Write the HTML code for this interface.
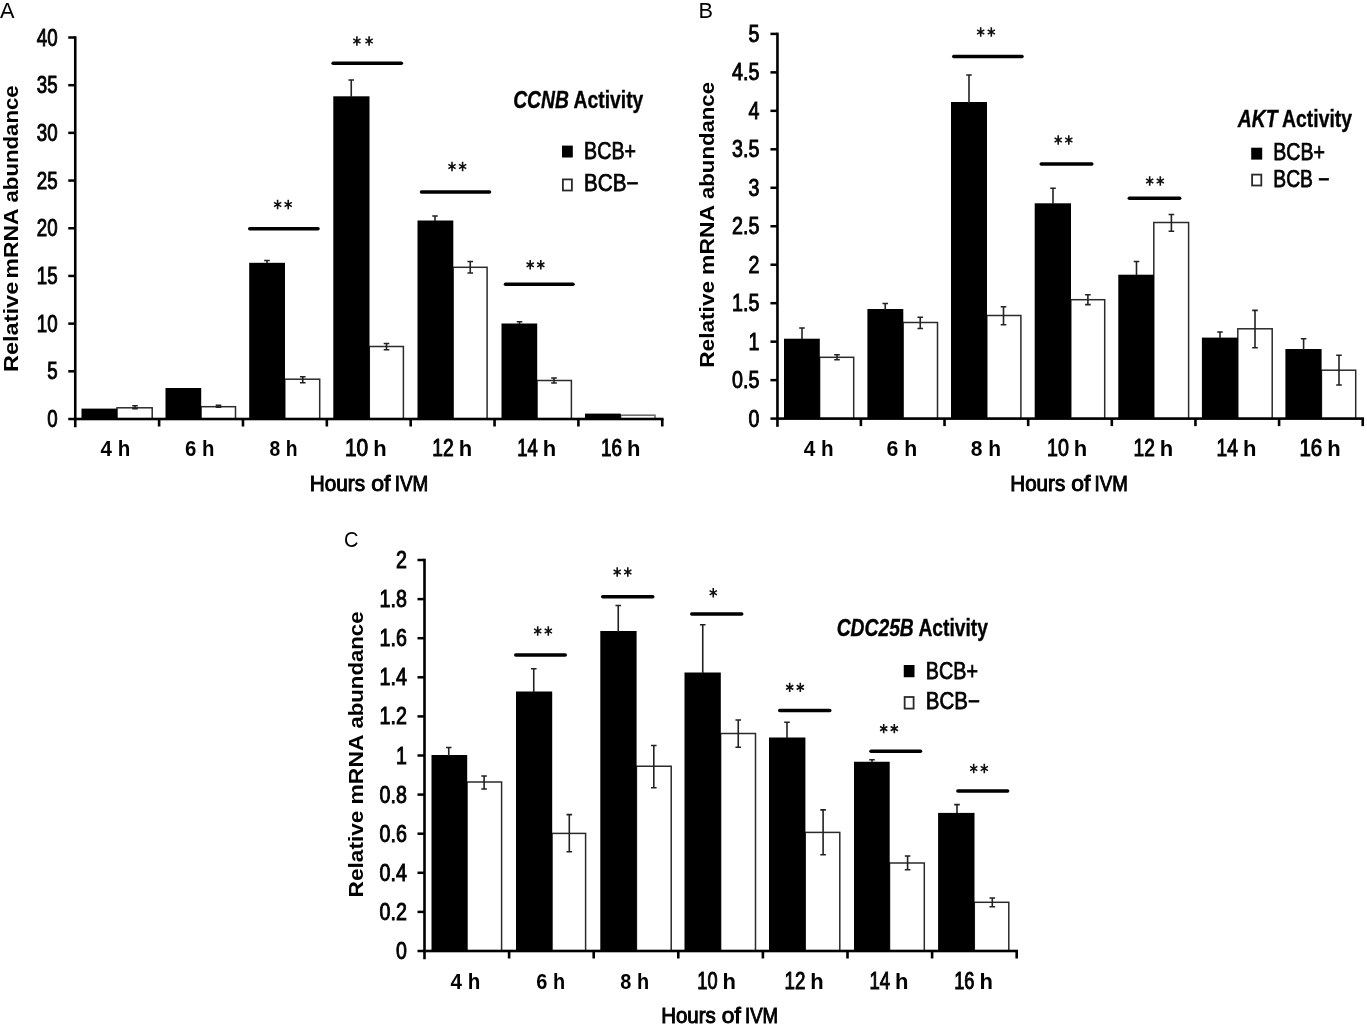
<!DOCTYPE html>
<html><head><meta charset="utf-8"><title>Relative mRNA abundance</title>
<style>
html,body{margin:0;padding:0;background:#fff;}
body{width:1367px;height:1026px;overflow:hidden;font-family:"Liberation Sans",sans-serif;}
svg text{font-family:"Liberation Sans",sans-serif;}
</style></head><body>
<svg width="1367" height="1026" viewBox="0 0 1367 1026" font-family="Liberation Sans, sans-serif" fill="#000" style="display:block;filter:blur(0.45px)">
<rect width="1367" height="1026" fill="#fff"/>
<rect x="117.00" y="407.80" width="35.20" height="11.20" fill="#fff" stroke="#2b2b2b" stroke-width="1.5"/>
<rect x="81.50" y="408.60" width="35.70" height="10.40" fill="#000"/>
<rect x="201.00" y="406.70" width="34.50" height="12.30" fill="#fff" stroke="#2b2b2b" stroke-width="1.5"/>
<rect x="165.50" y="388.00" width="35.70" height="31.00" fill="#000"/>
<rect x="284.80" y="379.20" width="34.90" height="39.80" fill="#fff" stroke="#2b2b2b" stroke-width="1.5"/>
<rect x="249.20" y="262.80" width="35.80" height="156.20" fill="#000"/>
<rect x="369.30" y="346.50" width="34.10" height="72.50" fill="#fff" stroke="#2b2b2b" stroke-width="1.5"/>
<rect x="333.30" y="96.30" width="36.20" height="322.70" fill="#000"/>
<rect x="453.10" y="267.30" width="34.00" height="151.70" fill="#fff" stroke="#2b2b2b" stroke-width="1.5"/>
<rect x="417.50" y="220.50" width="35.80" height="198.50" fill="#000"/>
<rect x="537.00" y="380.50" width="34.40" height="38.50" fill="#fff" stroke="#2b2b2b" stroke-width="1.5"/>
<rect x="501.50" y="323.50" width="35.70" height="95.50" fill="#000"/>
<rect x="620.60" y="415.20" width="34.40" height="3.80" fill="#fff" stroke="#666" stroke-width="1.5"/>
<rect x="585.00" y="413.60" width="35.80" height="5.40" fill="#000"/>
<path d="M135.00 405.80V408.80M132.20 405.80H137.80M132.20 408.80H137.80" stroke="#222" stroke-width="1.6" fill="none"/>
<path d="M267.00 260.50V263.00M264.20 260.50H269.80" stroke="#222" stroke-width="1.6" fill="none"/>
<path d="M302.75 376.75V382.75M299.95 376.75H305.55M299.95 382.75H305.55" stroke="#222" stroke-width="1.6" fill="none"/>
<path d="M351.25 80.00V97.00M348.45 80.00H354.05" stroke="#222" stroke-width="1.6" fill="none"/>
<path d="M386.50 343.50V349.75M383.70 343.50H389.30M383.70 349.75H389.30" stroke="#222" stroke-width="1.6" fill="none"/>
<path d="M435.00 216.00V221.00M432.20 216.00H437.80" stroke="#222" stroke-width="1.6" fill="none"/>
<path d="M470.25 261.50V273.00M467.45 261.50H473.05M467.45 273.00H473.05" stroke="#222" stroke-width="1.6" fill="none"/>
<path d="M519.50 321.80V324.00M516.70 321.80H522.30" stroke="#222" stroke-width="1.6" fill="none"/>
<path d="M554.00 378.00V383.00M551.20 378.00H556.80M551.20 383.00H556.80" stroke="#222" stroke-width="1.6" fill="none"/>
<path d="M218.50 405.20V407.20M215.70 405.20H221.30M215.70 407.20H221.30" stroke="#222" stroke-width="1.6" fill="none"/>
<rect x="73.95" y="36.25" width="2.6" height="391.00" fill="#000"/>
<rect x="73.95" y="417.70" width="589.62" height="2.6" fill="#000"/>
<rect x="157.81" y="419.00" width="2.6" height="7.5" fill="#000"/>
<rect x="241.67" y="419.00" width="2.6" height="7.5" fill="#000"/>
<rect x="325.53" y="419.00" width="2.6" height="7.5" fill="#000"/>
<rect x="409.39" y="419.00" width="2.6" height="7.5" fill="#000"/>
<rect x="493.25" y="419.00" width="2.6" height="7.5" fill="#000"/>
<rect x="577.11" y="419.00" width="2.6" height="7.5" fill="#000"/>
<rect x="660.97" y="419.00" width="2.6" height="7.5" fill="#000"/>
<rect x="68.25" y="417.75" width="7" height="2.5" fill="#000"/>
<text x="57.6" y="427.00" font-size="23.5" font-weight="normal" font-style="normal" text-anchor="end" textLength="10.4" lengthAdjust="spacingAndGlyphs" stroke="#000" stroke-width="0.95">0</text>
<rect x="68.25" y="370.06" width="7" height="2.5" fill="#000"/>
<text x="57.6" y="379.31" font-size="23.5" font-weight="normal" font-style="normal" text-anchor="end" textLength="10.4" lengthAdjust="spacingAndGlyphs" stroke="#000" stroke-width="0.95">5</text>
<rect x="68.25" y="322.38" width="7" height="2.5" fill="#000"/>
<text x="57.6" y="331.62" font-size="23.5" font-weight="normal" font-style="normal" text-anchor="end" textLength="20.8" lengthAdjust="spacingAndGlyphs" stroke="#000" stroke-width="0.95">10</text>
<rect x="68.25" y="274.69" width="7" height="2.5" fill="#000"/>
<text x="57.6" y="283.94" font-size="23.5" font-weight="normal" font-style="normal" text-anchor="end" textLength="20.8" lengthAdjust="spacingAndGlyphs" stroke="#000" stroke-width="0.95">15</text>
<rect x="68.25" y="227.00" width="7" height="2.5" fill="#000"/>
<text x="57.6" y="236.25" font-size="23.5" font-weight="normal" font-style="normal" text-anchor="end" textLength="20.8" lengthAdjust="spacingAndGlyphs" stroke="#000" stroke-width="0.95">20</text>
<rect x="68.25" y="179.31" width="7" height="2.5" fill="#000"/>
<text x="57.6" y="188.56" font-size="23.5" font-weight="normal" font-style="normal" text-anchor="end" textLength="20.8" lengthAdjust="spacingAndGlyphs" stroke="#000" stroke-width="0.95">25</text>
<rect x="68.25" y="131.62" width="7" height="2.5" fill="#000"/>
<text x="57.6" y="140.88" font-size="23.5" font-weight="normal" font-style="normal" text-anchor="end" textLength="20.8" lengthAdjust="spacingAndGlyphs" stroke="#000" stroke-width="0.95">30</text>
<rect x="68.25" y="83.94" width="7" height="2.5" fill="#000"/>
<text x="57.6" y="93.19" font-size="23.5" font-weight="normal" font-style="normal" text-anchor="end" textLength="20.8" lengthAdjust="spacingAndGlyphs" stroke="#000" stroke-width="0.95">35</text>
<rect x="68.25" y="36.25" width="7" height="2.5" fill="#000"/>
<text x="57.6" y="45.50" font-size="23.5" font-weight="normal" font-style="normal" text-anchor="end" textLength="20.8" lengthAdjust="spacingAndGlyphs" stroke="#000" stroke-width="0.95">40</text>
<path d="M249.75 228.75H318.00" stroke="#000" stroke-width="3.5" stroke-linecap="round"/>
<path d="M333.10 63.20H401.40" stroke="#000" stroke-width="3.5" stroke-linecap="round"/>
<path d="M421.50 192.00H489.50" stroke="#000" stroke-width="3.5" stroke-linecap="round"/>
<path d="M505.50 284.25H573.00" stroke="#000" stroke-width="3.5" stroke-linecap="round"/>
<path d="M277.60 199.80L277.60 209.20M273.96 202.40L281.24 206.60M281.24 202.40L273.96 206.60" stroke="#111" stroke-width="1.6" fill="none" stroke-linecap="butt"/>
<circle cx="277.60" cy="204.50" r="1.5" fill="#111"/>
<path d="M288.20 199.80L288.20 209.20M284.56 202.40L291.84 206.60M291.84 202.40L284.56 206.60" stroke="#111" stroke-width="1.6" fill="none" stroke-linecap="butt"/>
<circle cx="288.20" cy="204.50" r="1.5" fill="#111"/>
<path d="M356.90 36.30L356.90 45.70M353.26 38.90L360.54 43.10M360.54 38.90L353.26 43.10" stroke="#111" stroke-width="1.6" fill="none" stroke-linecap="butt"/>
<circle cx="356.90" cy="41.00" r="1.5" fill="#111"/>
<path d="M369.10 36.30L369.10 45.70M365.46 38.90L372.74 43.10M372.74 38.90L365.46 43.10" stroke="#111" stroke-width="1.6" fill="none" stroke-linecap="butt"/>
<circle cx="369.10" cy="41.00" r="1.5" fill="#111"/>
<path d="M452.00 161.80L452.00 171.20M448.36 164.40L455.64 168.60M455.64 164.40L448.36 168.60" stroke="#111" stroke-width="1.6" fill="none" stroke-linecap="butt"/>
<circle cx="452.00" cy="166.50" r="1.5" fill="#111"/>
<path d="M462.60 161.80L462.60 171.20M458.96 164.40L466.24 168.60M466.24 164.40L458.96 168.60" stroke="#111" stroke-width="1.6" fill="none" stroke-linecap="butt"/>
<circle cx="462.60" cy="166.50" r="1.5" fill="#111"/>
<path d="M530.20 260.10L530.20 269.50M526.56 262.70L533.84 266.90M533.84 262.70L526.56 266.90" stroke="#111" stroke-width="1.6" fill="none" stroke-linecap="butt"/>
<circle cx="530.20" cy="264.80" r="1.5" fill="#111"/>
<path d="M540.80 260.10L540.80 269.50M537.16 262.70L544.44 266.90M544.44 262.70L537.16 266.90" stroke="#111" stroke-width="1.6" fill="none" stroke-linecap="butt"/>
<circle cx="540.80" cy="264.80" r="1.5" fill="#111"/>
<text x="115.45" y="455.5" font-size="21.5" font-weight="bold" font-style="normal" text-anchor="middle" textLength="29.7" lengthAdjust="spacingAndGlyphs" >4 h</text>
<text x="199.82" y="455.5" font-size="21.5" font-weight="bold" font-style="normal" text-anchor="middle" textLength="29.4" lengthAdjust="spacingAndGlyphs" >6 h</text>
<text x="283.57" y="455.5" font-size="21.5" font-weight="bold" font-style="normal" text-anchor="middle" textLength="27.9" lengthAdjust="spacingAndGlyphs" >8 h</text>
<text x="368.15" y="455.6" font-size="23.5" font-weight="normal" font-style="normal" text-anchor="end" textLength="23.2" lengthAdjust="spacingAndGlyphs" stroke="#000" stroke-width="1.0">10</text>
<text x="386.65" y="455.5" font-size="22" font-weight="bold" font-style="normal" text-anchor="end" >h</text>
<text x="453.65" y="455.6" font-size="23.5" font-weight="normal" font-style="normal" text-anchor="end" textLength="21.4" lengthAdjust="spacingAndGlyphs" stroke="#000" stroke-width="1.0">12</text>
<text x="472.15" y="455.5" font-size="22" font-weight="bold" font-style="normal" text-anchor="end" >h</text>
<text x="537.65" y="455.6" font-size="23.5" font-weight="normal" font-style="normal" text-anchor="end" textLength="20.4" lengthAdjust="spacingAndGlyphs" stroke="#000" stroke-width="1.0">14</text>
<text x="556.15" y="455.5" font-size="22" font-weight="bold" font-style="normal" text-anchor="end" >h</text>
<text x="621.90" y="455.6" font-size="23.5" font-weight="normal" font-style="normal" text-anchor="end" textLength="20.9" lengthAdjust="spacingAndGlyphs" stroke="#000" stroke-width="1.0">16</text>
<text x="640.40" y="455.5" font-size="22" font-weight="bold" font-style="normal" text-anchor="end" >h</text>
<text x="337.48" y="491.2" font-size="22" font-weight="normal" font-style="normal" text-anchor="middle" textLength="55.4" lengthAdjust="spacingAndGlyphs" stroke="#000" stroke-width="1.0">Hours</text>
<text x="380.85" y="491.2" font-size="22" font-weight="normal" font-style="normal" text-anchor="middle" textLength="19.3" lengthAdjust="spacingAndGlyphs" stroke="#000" stroke-width="1.0">of</text>
<text x="411.56" y="491.2" font-size="22" font-weight="normal" font-style="normal" text-anchor="middle" textLength="33.5" lengthAdjust="spacingAndGlyphs" stroke="#000" stroke-width="1.0">IVM</text>
<text transform="translate(17.7,326.90) rotate(-90)" font-size="20.5" font-weight="bold" text-anchor="middle" textLength="90.4" lengthAdjust="spacingAndGlyphs">Relative</text>
<text transform="translate(17.7,243.40) rotate(-90)" font-size="20.5" font-weight="bold" text-anchor="middle" textLength="70.2" lengthAdjust="spacingAndGlyphs">mRNA</text>
<text transform="translate(17.7,143.90) rotate(-90)" font-size="20.5" font-weight="bold" text-anchor="middle" textLength="117.2" lengthAdjust="spacingAndGlyphs">abundance</text>
<text x="0" y="17.5" font-size="22" font-weight="normal" font-style="normal" text-anchor="start" textLength="14.5" lengthAdjust="spacingAndGlyphs" >A</text>
<text x="513.20" y="107.6" font-size="23" font-weight="bold" stroke="#000" stroke-width="0.35" textLength="130.1" lengthAdjust="spacingAndGlyphs"><tspan font-style="italic">CCNB</tspan> Activity</text>
<rect x="562.00" y="145.60" width="10.80" height="11.90" fill="#000"/>
<text x="584.10" y="159.2" font-size="23" font-weight="normal" font-style="normal" text-anchor="start" textLength="51.9" lengthAdjust="spacingAndGlyphs" stroke="#000" stroke-width="0.75">BCB+</text>
<rect x="562.90" y="179.40" width="9.00" height="11.10" fill="#fff" stroke="#2a2a2a" stroke-width="1.8"/>
<text x="584.10" y="191.15" font-size="23" font-weight="normal" font-style="normal" text-anchor="start" textLength="54.4" lengthAdjust="spacingAndGlyphs" stroke="#000" stroke-width="0.75">BCB−</text>
<rect x="819.60" y="357.30" width="34.10" height="61.30" fill="#fff" stroke="#2b2b2b" stroke-width="1.5"/>
<rect x="784.00" y="338.70" width="35.80" height="79.90" fill="#000"/>
<rect x="903.10" y="322.50" width="34.40" height="96.10" fill="#fff" stroke="#2b2b2b" stroke-width="1.5"/>
<rect x="867.40" y="309.00" width="35.90" height="109.60" fill="#000"/>
<rect x="986.80" y="315.50" width="34.10" height="103.10" fill="#fff" stroke="#2b2b2b" stroke-width="1.5"/>
<rect x="951.00" y="102.00" width="36.00" height="316.60" fill="#000"/>
<rect x="1070.80" y="299.70" width="33.90" height="118.90" fill="#fff" stroke="#2b2b2b" stroke-width="1.5"/>
<rect x="1034.70" y="203.30" width="36.30" height="215.30" fill="#000"/>
<rect x="1153.80" y="222.50" width="34.80" height="196.10" fill="#fff" stroke="#2b2b2b" stroke-width="1.5"/>
<rect x="1118.30" y="274.70" width="35.70" height="143.90" fill="#000"/>
<rect x="1237.80" y="328.80" width="34.40" height="89.80" fill="#fff" stroke="#2b2b2b" stroke-width="1.5"/>
<rect x="1201.90" y="337.60" width="36.10" height="81.00" fill="#000"/>
<rect x="1321.40" y="370.20" width="34.30" height="48.40" fill="#fff" stroke="#2b2b2b" stroke-width="1.5"/>
<rect x="1285.40" y="349.00" width="36.20" height="69.60" fill="#000"/>
<path d="M802.00 328.00V339.00M799.20 328.00H804.80" stroke="#222" stroke-width="1.6" fill="none"/>
<path d="M837.00 354.75V359.75M834.20 354.75H839.80M834.20 359.75H839.80" stroke="#222" stroke-width="1.6" fill="none"/>
<path d="M885.25 303.50V310.00M882.45 303.50H888.05" stroke="#222" stroke-width="1.6" fill="none"/>
<path d="M920.25 317.25V328.50M917.45 317.25H923.05M917.45 328.50H923.05" stroke="#222" stroke-width="1.6" fill="none"/>
<path d="M969.00 75.00V103.00M966.20 75.00H971.80" stroke="#222" stroke-width="1.6" fill="none"/>
<path d="M1003.50 306.75V324.75M1000.70 306.75H1006.30M1000.70 324.75H1006.30" stroke="#222" stroke-width="1.6" fill="none"/>
<path d="M1053.00 188.30V204.00M1050.20 188.30H1055.80" stroke="#222" stroke-width="1.6" fill="none"/>
<path d="M1087.90 294.70V304.60M1085.10 294.70H1090.70M1085.10 304.60H1090.70" stroke="#222" stroke-width="1.6" fill="none"/>
<path d="M1136.50 261.50V275.00M1133.70 261.50H1139.30" stroke="#222" stroke-width="1.6" fill="none"/>
<path d="M1171.40 214.50V231.20M1168.60 214.50H1174.20M1168.60 231.20H1174.20" stroke="#222" stroke-width="1.6" fill="none"/>
<path d="M1220.00 332.00V338.00M1217.20 332.00H1222.80" stroke="#222" stroke-width="1.6" fill="none"/>
<path d="M1255.00 310.40V347.80M1252.20 310.40H1257.80M1252.20 347.80H1257.80" stroke="#222" stroke-width="1.6" fill="none"/>
<path d="M1303.60 338.80V350.00M1300.80 338.80H1306.40" stroke="#222" stroke-width="1.6" fill="none"/>
<path d="M1339.00 355.30V385.00M1336.20 355.30H1341.80M1336.20 385.00H1341.80" stroke="#222" stroke-width="1.6" fill="none"/>
<rect x="776.15" y="32.65" width="2.6" height="394.20" fill="#000"/>
<rect x="776.15" y="417.30" width="587.88" height="2.6" fill="#000"/>
<rect x="859.59" y="418.60" width="2.6" height="7.5" fill="#000"/>
<rect x="943.23" y="418.60" width="2.6" height="7.5" fill="#000"/>
<rect x="1026.87" y="418.60" width="2.6" height="7.5" fill="#000"/>
<rect x="1110.51" y="418.60" width="2.6" height="7.5" fill="#000"/>
<rect x="1194.15" y="418.60" width="2.6" height="7.5" fill="#000"/>
<rect x="1277.79" y="418.60" width="2.6" height="7.5" fill="#000"/>
<rect x="1361.43" y="418.60" width="2.6" height="7.5" fill="#000"/>
<rect x="770.45" y="417.35" width="7" height="2.5" fill="#000"/>
<text x="759.3000000000001" y="426.60" font-size="23.5" font-weight="normal" font-style="normal" text-anchor="end" textLength="10.9" lengthAdjust="spacingAndGlyphs" stroke="#000" stroke-width="0.95">0</text>
<rect x="770.45" y="378.88" width="7" height="2.5" fill="#000"/>
<text x="759.3000000000001" y="388.13" font-size="23.5" font-weight="normal" font-style="normal" text-anchor="end" textLength="27.3" lengthAdjust="spacingAndGlyphs" stroke="#000" stroke-width="0.95">0.5</text>
<rect x="770.45" y="340.41" width="7" height="2.5" fill="#000"/>
<text x="759.3000000000001" y="349.66" font-size="23.5" font-weight="normal" font-style="normal" text-anchor="end" textLength="10.9" lengthAdjust="spacingAndGlyphs" stroke="#000" stroke-width="0.95">1</text>
<rect x="770.45" y="301.94" width="7" height="2.5" fill="#000"/>
<text x="759.3000000000001" y="311.19" font-size="23.5" font-weight="normal" font-style="normal" text-anchor="end" textLength="27.3" lengthAdjust="spacingAndGlyphs" stroke="#000" stroke-width="0.95">1.5</text>
<rect x="770.45" y="263.47" width="7" height="2.5" fill="#000"/>
<text x="759.3000000000001" y="272.72" font-size="23.5" font-weight="normal" font-style="normal" text-anchor="end" textLength="10.9" lengthAdjust="spacingAndGlyphs" stroke="#000" stroke-width="0.95">2</text>
<rect x="770.45" y="225.00" width="7" height="2.5" fill="#000"/>
<text x="759.3000000000001" y="234.25" font-size="23.5" font-weight="normal" font-style="normal" text-anchor="end" textLength="27.3" lengthAdjust="spacingAndGlyphs" stroke="#000" stroke-width="0.95">2.5</text>
<rect x="770.45" y="186.53" width="7" height="2.5" fill="#000"/>
<text x="759.3000000000001" y="195.78" font-size="23.5" font-weight="normal" font-style="normal" text-anchor="end" textLength="10.9" lengthAdjust="spacingAndGlyphs" stroke="#000" stroke-width="0.95">3</text>
<rect x="770.45" y="148.06" width="7" height="2.5" fill="#000"/>
<text x="759.3000000000001" y="157.31" font-size="23.5" font-weight="normal" font-style="normal" text-anchor="end" textLength="27.3" lengthAdjust="spacingAndGlyphs" stroke="#000" stroke-width="0.95">3.5</text>
<rect x="770.45" y="109.59" width="7" height="2.5" fill="#000"/>
<text x="759.3000000000001" y="118.84" font-size="23.5" font-weight="normal" font-style="normal" text-anchor="end" textLength="10.9" lengthAdjust="spacingAndGlyphs" stroke="#000" stroke-width="0.95">4</text>
<rect x="770.45" y="71.12" width="7" height="2.5" fill="#000"/>
<text x="759.3000000000001" y="80.37" font-size="23.5" font-weight="normal" font-style="normal" text-anchor="end" textLength="27.3" lengthAdjust="spacingAndGlyphs" stroke="#000" stroke-width="0.95">4.5</text>
<rect x="770.45" y="32.65" width="7" height="2.5" fill="#000"/>
<text x="759.3000000000001" y="41.90" font-size="23.5" font-weight="normal" font-style="normal" text-anchor="end" textLength="10.9" lengthAdjust="spacingAndGlyphs" stroke="#000" stroke-width="0.95">5</text>
<path d="M953.75 56.50H1022.00" stroke="#000" stroke-width="3.5" stroke-linecap="round"/>
<path d="M1041.20 164.10H1091.80" stroke="#000" stroke-width="3.5" stroke-linecap="round"/>
<path d="M1129.30 198.30H1179.70" stroke="#000" stroke-width="3.5" stroke-linecap="round"/>
<path d="M980.70 27.30L980.70 36.70M977.06 29.90L984.34 34.10M984.34 29.90L977.06 34.10" stroke="#111" stroke-width="1.6" fill="none" stroke-linecap="butt"/>
<circle cx="980.70" cy="32.00" r="1.5" fill="#111"/>
<path d="M991.30 27.30L991.30 36.70M987.66 29.90L994.94 34.10M994.94 29.90L987.66 34.10" stroke="#111" stroke-width="1.6" fill="none" stroke-linecap="butt"/>
<circle cx="991.30" cy="32.00" r="1.5" fill="#111"/>
<path d="M1058.20 135.30L1058.20 144.70M1054.56 137.90L1061.84 142.10M1061.84 137.90L1054.56 142.10" stroke="#111" stroke-width="1.6" fill="none" stroke-linecap="butt"/>
<circle cx="1058.20" cy="140.00" r="1.5" fill="#111"/>
<path d="M1068.80 135.30L1068.80 144.70M1065.16 137.90L1072.44 142.10M1072.44 137.90L1065.16 142.10" stroke="#111" stroke-width="1.6" fill="none" stroke-linecap="butt"/>
<circle cx="1068.80" cy="140.00" r="1.5" fill="#111"/>
<path d="M1149.70 176.30L1149.70 185.70M1146.06 178.90L1153.34 183.10M1153.34 178.90L1146.06 183.10" stroke="#111" stroke-width="1.6" fill="none" stroke-linecap="butt"/>
<circle cx="1149.70" cy="181.00" r="1.5" fill="#111"/>
<path d="M1160.30 176.30L1160.30 185.70M1156.66 178.90L1163.94 183.10M1163.94 178.90L1156.66 183.10" stroke="#111" stroke-width="1.6" fill="none" stroke-linecap="butt"/>
<circle cx="1160.30" cy="181.00" r="1.5" fill="#111"/>
<text x="818.58" y="455.5" font-size="21.5" font-weight="bold" font-style="normal" text-anchor="middle" textLength="29.9" lengthAdjust="spacingAndGlyphs" >4 h</text>
<text x="901.95" y="455.5" font-size="21.5" font-weight="bold" font-style="normal" text-anchor="middle" textLength="30.7" lengthAdjust="spacingAndGlyphs" >6 h</text>
<text x="985.83" y="455.5" font-size="21.5" font-weight="bold" font-style="normal" text-anchor="middle" textLength="30.4" lengthAdjust="spacingAndGlyphs" >8 h</text>
<text x="1068.80" y="455.6" font-size="23.5" font-weight="normal" font-style="normal" text-anchor="end" textLength="21.8" lengthAdjust="spacingAndGlyphs" stroke="#000" stroke-width="1.0">10</text>
<text x="1087.30" y="455.5" font-size="22" font-weight="bold" font-style="normal" text-anchor="end" >h</text>
<text x="1154.80" y="455.6" font-size="23.5" font-weight="normal" font-style="normal" text-anchor="end" textLength="21.3" lengthAdjust="spacingAndGlyphs" stroke="#000" stroke-width="1.0">12</text>
<text x="1173.30" y="455.5" font-size="22" font-weight="bold" font-style="normal" text-anchor="end" >h</text>
<text x="1237.90" y="455.6" font-size="23.5" font-weight="normal" font-style="normal" text-anchor="end" textLength="21.3" lengthAdjust="spacingAndGlyphs" stroke="#000" stroke-width="1.0">14</text>
<text x="1256.40" y="455.5" font-size="22" font-weight="bold" font-style="normal" text-anchor="end" >h</text>
<text x="1322.20" y="455.6" font-size="23.5" font-weight="normal" font-style="normal" text-anchor="end" textLength="22.8" lengthAdjust="spacingAndGlyphs" stroke="#000" stroke-width="1.0">16</text>
<text x="1340.70" y="455.5" font-size="22" font-weight="bold" font-style="normal" text-anchor="end" >h</text>
<text x="1037.75" y="491.4" font-size="22" font-weight="normal" font-style="normal" text-anchor="middle" textLength="54.9" lengthAdjust="spacingAndGlyphs" stroke="#000" stroke-width="1.0">Hours</text>
<text x="1080.75" y="491.4" font-size="22" font-weight="normal" font-style="normal" text-anchor="middle" textLength="19.1" lengthAdjust="spacingAndGlyphs" stroke="#000" stroke-width="1.0">of</text>
<text x="1111.20" y="491.4" font-size="22" font-weight="normal" font-style="normal" text-anchor="middle" textLength="33.2" lengthAdjust="spacingAndGlyphs" stroke="#000" stroke-width="1.0">IVM</text>
<text transform="translate(714.2,324.36) rotate(-90)" font-size="20.5" font-weight="bold" text-anchor="middle" textLength="86.9" lengthAdjust="spacingAndGlyphs">Relative</text>
<text transform="translate(714.2,239.88) rotate(-90)" font-size="20.5" font-weight="bold" text-anchor="middle" textLength="70.1" lengthAdjust="spacingAndGlyphs">mRNA</text>
<text transform="translate(714.2,140.52) rotate(-90)" font-size="20.5" font-weight="bold" text-anchor="middle" textLength="117.0" lengthAdjust="spacingAndGlyphs">abundance</text>
<text x="698.5" y="17.5" font-size="22" font-weight="normal" font-style="normal" text-anchor="start" textLength="14.5" lengthAdjust="spacingAndGlyphs" >B</text>
<text x="1237.70" y="126.8" font-size="23" font-weight="bold" stroke="#000" stroke-width="0.35" textLength="114.3" lengthAdjust="spacingAndGlyphs"><tspan font-style="italic">AKT</tspan> Activity</text>
<rect x="1251.20" y="147.70" width="11.00" height="11.90" fill="#000"/>
<text x="1273.30" y="159.8" font-size="23" font-weight="normal" font-style="normal" text-anchor="start" textLength="51.7" lengthAdjust="spacingAndGlyphs" stroke="#000" stroke-width="0.75">BCB+</text>
<rect x="1252.10" y="174.60" width="9.20" height="10.90" fill="#fff" stroke="#2a2a2a" stroke-width="1.8"/>
<text x="1273.30" y="186.6" font-size="23" font-weight="normal" font-style="normal" text-anchor="start" textLength="56.3" lengthAdjust="spacingAndGlyphs" stroke="#000" stroke-width="0.75">BCB −</text>
<rect x="467.00" y="782.00" width="34.60" height="169.00" fill="#fff" stroke="#2b2b2b" stroke-width="1.5"/>
<rect x="431.50" y="755.00" width="35.70" height="196.00" fill="#000"/>
<rect x="552.00" y="833.40" width="33.60" height="117.60" fill="#fff" stroke="#2b2b2b" stroke-width="1.5"/>
<rect x="516.00" y="691.50" width="36.20" height="259.50" fill="#000"/>
<rect x="636.40" y="766.25" width="34.80" height="184.75" fill="#fff" stroke="#2b2b2b" stroke-width="1.5"/>
<rect x="600.30" y="631.00" width="36.30" height="320.00" fill="#000"/>
<rect x="720.60" y="733.50" width="34.90" height="217.50" fill="#fff" stroke="#2b2b2b" stroke-width="1.5"/>
<rect x="684.50" y="672.50" width="36.30" height="278.50" fill="#000"/>
<rect x="805.20" y="832.40" width="34.60" height="118.60" fill="#fff" stroke="#2b2b2b" stroke-width="1.5"/>
<rect x="769.00" y="737.50" width="36.40" height="213.50" fill="#000"/>
<rect x="889.50" y="863.00" width="34.80" height="88.00" fill="#fff" stroke="#2b2b2b" stroke-width="1.5"/>
<rect x="854.00" y="761.75" width="35.70" height="189.25" fill="#000"/>
<rect x="974.30" y="902.30" width="34.50" height="48.70" fill="#fff" stroke="#2b2b2b" stroke-width="1.5"/>
<rect x="938.10" y="812.90" width="36.40" height="138.10" fill="#000"/>
<path d="M448.75 747.50V756.00M445.95 747.50H451.55" stroke="#222" stroke-width="1.6" fill="none"/>
<path d="M484.10 776.00V789.00M481.30 776.00H486.90M481.30 789.00H486.90" stroke="#222" stroke-width="1.6" fill="none"/>
<path d="M533.75 668.75V692.00M530.95 668.75H536.55" stroke="#222" stroke-width="1.6" fill="none"/>
<path d="M569.30 814.60V851.70M566.50 814.60H572.10M566.50 851.70H572.10" stroke="#222" stroke-width="1.6" fill="none"/>
<path d="M618.25 605.50V632.00M615.45 605.50H621.05" stroke="#222" stroke-width="1.6" fill="none"/>
<path d="M653.80 745.50V787.80M651.00 745.50H656.60M651.00 787.80H656.60" stroke="#222" stroke-width="1.6" fill="none"/>
<path d="M702.75 624.75V673.00M699.95 624.75H705.55" stroke="#222" stroke-width="1.6" fill="none"/>
<path d="M738.25 720.00V747.25M735.45 720.00H741.05M735.45 747.25H741.05" stroke="#222" stroke-width="1.6" fill="none"/>
<path d="M787.00 722.25V738.00M784.20 722.25H789.80" stroke="#222" stroke-width="1.6" fill="none"/>
<path d="M823.10 809.90V854.70M820.30 809.90H825.90M820.30 854.70H825.90" stroke="#222" stroke-width="1.6" fill="none"/>
<path d="M872.00 759.80V762.00M869.20 759.80H874.80" stroke="#222" stroke-width="1.6" fill="none"/>
<path d="M907.60 856.00V869.80M904.80 856.00H910.40M904.80 869.80H910.40" stroke="#222" stroke-width="1.6" fill="none"/>
<path d="M957.00 804.60V813.00M954.20 804.60H959.80" stroke="#222" stroke-width="1.6" fill="none"/>
<path d="M992.30 898.00V906.80M989.50 898.00H995.10M989.50 906.80H995.10" stroke="#222" stroke-width="1.6" fill="none"/>
<rect x="423.20" y="558.75" width="2.6" height="400.50" fill="#000"/>
<rect x="423.20" y="949.70" width="594.80" height="2.6" fill="#000"/>
<rect x="507.80" y="951.00" width="2.6" height="7.5" fill="#000"/>
<rect x="592.40" y="951.00" width="2.6" height="7.5" fill="#000"/>
<rect x="677.00" y="951.00" width="2.6" height="7.5" fill="#000"/>
<rect x="761.60" y="951.00" width="2.6" height="7.5" fill="#000"/>
<rect x="846.20" y="951.00" width="2.6" height="7.5" fill="#000"/>
<rect x="930.80" y="951.00" width="2.6" height="7.5" fill="#000"/>
<rect x="1015.40" y="951.00" width="2.6" height="7.5" fill="#000"/>
<rect x="417.50" y="949.75" width="7" height="2.5" fill="#000"/>
<text x="406.90000000000003" y="959.00" font-size="23.5" font-weight="normal" font-style="normal" text-anchor="end" textLength="10.9" lengthAdjust="spacingAndGlyphs" stroke="#000" stroke-width="0.95">0</text>
<rect x="417.50" y="910.65" width="7" height="2.5" fill="#000"/>
<text x="406.90000000000003" y="919.90" font-size="23.5" font-weight="normal" font-style="normal" text-anchor="end" textLength="27.3" lengthAdjust="spacingAndGlyphs" stroke="#000" stroke-width="0.95">0.2</text>
<rect x="417.50" y="871.55" width="7" height="2.5" fill="#000"/>
<text x="406.90000000000003" y="880.80" font-size="23.5" font-weight="normal" font-style="normal" text-anchor="end" textLength="27.3" lengthAdjust="spacingAndGlyphs" stroke="#000" stroke-width="0.95">0.4</text>
<rect x="417.50" y="832.45" width="7" height="2.5" fill="#000"/>
<text x="406.90000000000003" y="841.70" font-size="23.5" font-weight="normal" font-style="normal" text-anchor="end" textLength="27.3" lengthAdjust="spacingAndGlyphs" stroke="#000" stroke-width="0.95">0.6</text>
<rect x="417.50" y="793.35" width="7" height="2.5" fill="#000"/>
<text x="406.90000000000003" y="802.60" font-size="23.5" font-weight="normal" font-style="normal" text-anchor="end" textLength="27.3" lengthAdjust="spacingAndGlyphs" stroke="#000" stroke-width="0.95">0.8</text>
<rect x="417.50" y="754.25" width="7" height="2.5" fill="#000"/>
<text x="406.90000000000003" y="763.50" font-size="23.5" font-weight="normal" font-style="normal" text-anchor="end" textLength="10.9" lengthAdjust="spacingAndGlyphs" stroke="#000" stroke-width="0.95">1</text>
<rect x="417.50" y="715.15" width="7" height="2.5" fill="#000"/>
<text x="406.90000000000003" y="724.40" font-size="23.5" font-weight="normal" font-style="normal" text-anchor="end" textLength="27.3" lengthAdjust="spacingAndGlyphs" stroke="#000" stroke-width="0.95">1.2</text>
<rect x="417.50" y="676.05" width="7" height="2.5" fill="#000"/>
<text x="406.90000000000003" y="685.30" font-size="23.5" font-weight="normal" font-style="normal" text-anchor="end" textLength="27.3" lengthAdjust="spacingAndGlyphs" stroke="#000" stroke-width="0.95">1.4</text>
<rect x="417.50" y="636.95" width="7" height="2.5" fill="#000"/>
<text x="406.90000000000003" y="646.20" font-size="23.5" font-weight="normal" font-style="normal" text-anchor="end" textLength="27.3" lengthAdjust="spacingAndGlyphs" stroke="#000" stroke-width="0.95">1.6</text>
<rect x="417.50" y="597.85" width="7" height="2.5" fill="#000"/>
<text x="406.90000000000003" y="607.10" font-size="23.5" font-weight="normal" font-style="normal" text-anchor="end" textLength="27.3" lengthAdjust="spacingAndGlyphs" stroke="#000" stroke-width="0.95">1.8</text>
<rect x="417.50" y="558.75" width="7" height="2.5" fill="#000"/>
<text x="406.90000000000003" y="568.00" font-size="23.5" font-weight="normal" font-style="normal" text-anchor="end" textLength="10.9" lengthAdjust="spacingAndGlyphs" stroke="#000" stroke-width="0.95">2</text>
<path d="M515.75 655.00H565.25" stroke="#000" stroke-width="3.5" stroke-linecap="round"/>
<path d="M602.75 596.75H652.75" stroke="#000" stroke-width="3.5" stroke-linecap="round"/>
<path d="M691.75 614.00H741.75" stroke="#000" stroke-width="3.5" stroke-linecap="round"/>
<path d="M779.75 710.50H829.75" stroke="#000" stroke-width="3.5" stroke-linecap="round"/>
<path d="M871.00 751.25H920.50" stroke="#000" stroke-width="3.5" stroke-linecap="round"/>
<path d="M957.90 791.00H1007.60" stroke="#000" stroke-width="3.5" stroke-linecap="round"/>
<path d="M537.70 626.30L537.70 635.70M534.06 628.90L541.34 633.10M541.34 628.90L534.06 633.10" stroke="#111" stroke-width="1.6" fill="none" stroke-linecap="butt"/>
<circle cx="537.70" cy="631.00" r="1.5" fill="#111"/>
<path d="M548.30 626.30L548.30 635.70M544.66 628.90L551.94 633.10M551.94 628.90L544.66 633.10" stroke="#111" stroke-width="1.6" fill="none" stroke-linecap="butt"/>
<circle cx="548.30" cy="631.00" r="1.5" fill="#111"/>
<path d="M617.20 567.30L617.20 576.70M613.56 569.90L620.84 574.10M620.84 569.90L613.56 574.10" stroke="#111" stroke-width="1.6" fill="none" stroke-linecap="butt"/>
<circle cx="617.20" cy="572.00" r="1.5" fill="#111"/>
<path d="M627.80 567.30L627.80 576.70M624.16 569.90L631.44 574.10M631.44 569.90L624.16 574.10" stroke="#111" stroke-width="1.6" fill="none" stroke-linecap="butt"/>
<circle cx="627.80" cy="572.00" r="1.5" fill="#111"/>
<path d="M713.25 588.05L713.25 597.45M709.61 590.65L716.89 594.85M716.89 590.65L709.61 594.85" stroke="#111" stroke-width="1.6" fill="none" stroke-linecap="butt"/>
<circle cx="713.25" cy="592.75" r="1.5" fill="#111"/>
<path d="M789.70 682.70L789.70 692.10M786.06 685.30L793.34 689.50M793.34 685.30L786.06 689.50" stroke="#111" stroke-width="1.6" fill="none" stroke-linecap="butt"/>
<circle cx="789.70" cy="687.40" r="1.5" fill="#111"/>
<path d="M800.30 682.70L800.30 692.10M796.66 685.30L803.94 689.50M803.94 685.30L796.66 689.50" stroke="#111" stroke-width="1.6" fill="none" stroke-linecap="butt"/>
<circle cx="800.30" cy="687.40" r="1.5" fill="#111"/>
<path d="M883.70 723.90L883.70 733.30M880.06 726.50L887.34 730.70M887.34 726.50L880.06 730.70" stroke="#111" stroke-width="1.6" fill="none" stroke-linecap="butt"/>
<circle cx="883.70" cy="728.60" r="1.5" fill="#111"/>
<path d="M894.30 723.90L894.30 733.30M890.66 726.50L897.94 730.70M897.94 726.50L890.66 730.70" stroke="#111" stroke-width="1.6" fill="none" stroke-linecap="butt"/>
<circle cx="894.30" cy="728.60" r="1.5" fill="#111"/>
<path d="M973.70 763.80L973.70 773.20M970.06 766.40L977.34 770.60M977.34 766.40L970.06 770.60" stroke="#111" stroke-width="1.6" fill="none" stroke-linecap="butt"/>
<circle cx="973.70" cy="768.50" r="1.5" fill="#111"/>
<path d="M984.30 763.80L984.30 773.20M980.66 766.40L987.94 770.60M987.94 766.40L980.66 770.60" stroke="#111" stroke-width="1.6" fill="none" stroke-linecap="butt"/>
<circle cx="984.30" cy="768.50" r="1.5" fill="#111"/>
<text x="465.50" y="988.5" font-size="21.5" font-weight="bold" font-style="normal" text-anchor="middle" textLength="29.8" lengthAdjust="spacingAndGlyphs" >4 h</text>
<text x="550.70" y="988.5" font-size="21.5" font-weight="bold" font-style="normal" text-anchor="middle" textLength="28.8" lengthAdjust="spacingAndGlyphs" >6 h</text>
<text x="634.70" y="988.5" font-size="21.5" font-weight="bold" font-style="normal" text-anchor="middle" textLength="28.8" lengthAdjust="spacingAndGlyphs" >8 h</text>
<text x="717.50" y="988.5999999999999" font-size="23.5" font-weight="normal" font-style="normal" text-anchor="end" textLength="20.2" lengthAdjust="spacingAndGlyphs" stroke="#000" stroke-width="1.0">10</text>
<text x="736.00" y="988.5" font-size="22" font-weight="bold" font-style="normal" text-anchor="end" >h</text>
<text x="805.30" y="988.5999999999999" font-size="23.5" font-weight="normal" font-style="normal" text-anchor="end" textLength="20.8" lengthAdjust="spacingAndGlyphs" stroke="#000" stroke-width="1.0">12</text>
<text x="823.80" y="988.5" font-size="22" font-weight="bold" font-style="normal" text-anchor="end" >h</text>
<text x="890.00" y="988.5999999999999" font-size="23.5" font-weight="normal" font-style="normal" text-anchor="end" textLength="20.5" lengthAdjust="spacingAndGlyphs" stroke="#000" stroke-width="1.0">14</text>
<text x="908.50" y="988.5" font-size="22" font-weight="bold" font-style="normal" text-anchor="end" >h</text>
<text x="974.40" y="988.5999999999999" font-size="23.5" font-weight="normal" font-style="normal" text-anchor="end" textLength="20.2" lengthAdjust="spacingAndGlyphs" stroke="#000" stroke-width="1.0">16</text>
<text x="992.90" y="988.5" font-size="22" font-weight="bold" font-style="normal" text-anchor="end" >h</text>
<text x="688.49" y="1023.3" font-size="22" font-weight="normal" font-style="normal" text-anchor="middle" textLength="54.6" lengthAdjust="spacingAndGlyphs" stroke="#000" stroke-width="1.0">Hours</text>
<text x="731.23" y="1023.3" font-size="22" font-weight="normal" font-style="normal" text-anchor="middle" textLength="19.0" lengthAdjust="spacingAndGlyphs" stroke="#000" stroke-width="1.0">of</text>
<text x="761.50" y="1023.3" font-size="22" font-weight="normal" font-style="normal" text-anchor="middle" textLength="33.0" lengthAdjust="spacingAndGlyphs" stroke="#000" stroke-width="1.0">IVM</text>
<text transform="translate(362.7,854.03) rotate(-90)" font-size="20.5" font-weight="bold" text-anchor="middle" textLength="86.9" lengthAdjust="spacingAndGlyphs">Relative</text>
<text transform="translate(362.7,769.49) rotate(-90)" font-size="20.5" font-weight="bold" text-anchor="middle" textLength="70.2" lengthAdjust="spacingAndGlyphs">mRNA</text>
<text transform="translate(362.7,670.06) rotate(-90)" font-size="20.5" font-weight="bold" text-anchor="middle" textLength="117.1" lengthAdjust="spacingAndGlyphs">abundance</text>
<text x="344" y="547.3" font-size="22" font-weight="normal" font-style="normal" text-anchor="start" textLength="14.5" lengthAdjust="spacingAndGlyphs" >C</text>
<text x="836.70" y="636.1" font-size="23" font-weight="bold" stroke="#000" stroke-width="0.35" textLength="151.3" lengthAdjust="spacingAndGlyphs"><tspan font-style="italic">CDC25B</tspan> Activity</text>
<rect x="903.75" y="665.00" width="10.75" height="12.25" fill="#000"/>
<text x="925.85" y="679.0" font-size="23" font-weight="normal" font-style="normal" text-anchor="start" textLength="52.1" lengthAdjust="spacingAndGlyphs" stroke="#000" stroke-width="0.75">BCB+</text>
<rect x="904.65" y="697.00" width="8.95" height="11.60" fill="#fff" stroke="#2a2a2a" stroke-width="1.8"/>
<text x="925.85" y="708.6" font-size="23" font-weight="normal" font-style="normal" text-anchor="start" textLength="54.1" lengthAdjust="spacingAndGlyphs" stroke="#000" stroke-width="0.75">BCB−</text>
</svg>
</body></html>
